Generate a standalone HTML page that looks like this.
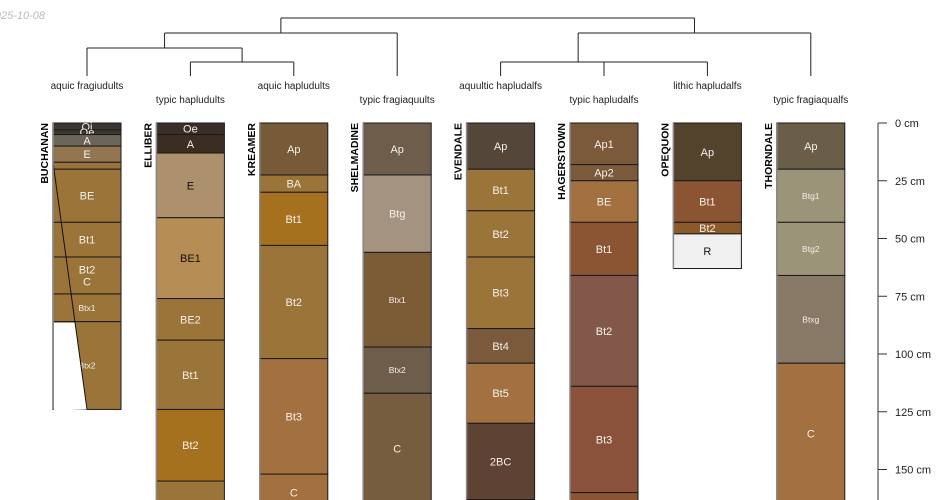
<!DOCTYPE html>
<html><head><meta charset="utf-8"><style>
html,body{margin:0;padding:0;background:#fff;width:950px;height:500px;overflow:hidden;}
svg{display:block;font-family:"Liberation Sans",sans-serif;overflow:hidden;}
</style></head><body>
<svg id="chart" width="950" height="500" viewBox="0 0 950 500" xmlns="http://www.w3.org/2000/svg">
<text x="45" y="19" text-anchor="end" font-size="11" font-style="italic" fill="#bbb">2025-10-08</text>
<g id="dendro" stroke="#222" stroke-width="1" fill="none"></g>
<g id="profiles"></g>
<g id="axis"></g>
</svg>
<script>
const profileNames = ["BUCHANAN","ELLIBER","KREAMER","SHELMADINE","EVENDALE","HAGERSTOWN","OPEQUON","THORNDALE"];
const taxa = ["aquic fragiudults","typic hapludults","aquic hapludults","typic fragiaquults","aquultic hapludalfs","typic hapludalfs","lithic hapludalfs","typic fragiaqualfs"];
const hzNames = [
 ["Oi","Oe","A","E","","BE","Bt1","Bt2\nC","Btx1","Btx2"],
 ["Oe","A","E","BE1","BE2","Bt1","Bt2","Bt3"],
 ["Ap","BA","Bt1","Bt2","Bt3","C"],
 ["Ap","Btg","Btx1","Btx2","C"],
 ["Ap","Bt1","Bt2","Bt3","Bt4","Bt5","2BC"],
 ["Ap1","Ap2","BE","Bt1","Bt2","Bt3","C"],
 ["Ap","Bt1","Bt2","R"],
 ["Ap","Btg1","Btg2","Btxg","C"]
];
const hzBottoms = [
 [3,5,10,17,20,43,58,74,86,124],
 [5,13,41,76,94,124,155,200],
 [22.5,30,53,102,152,168],
 [22.5,56,97,117,165],
 [20,38,58,89,104,130,163],
 [18,25,43,66,114,160,200],
 [25,43,48,63],
 [20,43,66,104,165]
];
const hzColors = [
 ["#3c3530","#3e3630","#6e655a","#937650","#9a733c","#9a7438","#9a7438","#9a7438","#9a7438","#9a7438"],
 ["#3a2f28","#3b2d22","#ad916c","#b68d55","#9a7438","#9a7438","#a5711e","#9a7438"],
 ["#775a37","#9a7438","#a5711e","#9a7438","#a37040","#a37040"],
 ["#6e5d4b","#a49380","#7b5c37","#6e5d4b","#765d40"],
 ["#54473a","#9a7438","#9a7438","#9a7438","#7b5a3c","#a37040","#5e4233"],
 ["#7b5a3c","#7b5a3c","#a37040","#8b5533","#82584a","#8b523b","#8b5533"],
 ["#54432c","#8b5533","#8b5a2a","#f0f0f0"],
 ["#6b5e49","#9c9478","#9c9478","#887866","#a37040"]
];
const depthTicks = [0,25,50,75,100,125,150];

const NS="http://www.w3.org/2000/svg";
const Y0=123, PXCM=2.31, X0=53, DX=103.4, W=68, YMAX=500;
function yScale(d){return Y0+d*PXCM;}
function xLeft(i){return X0+i*DX;}
function xCenter(i){return xLeft(i)+W/2;}
function mk(tag,attrs,parent){const e=document.createElementNS(NS,tag);for(const k in attrs)e.setAttribute(k,attrs[k]);parent.appendChild(e);return e;}
const smallSet=["Btx1","Btx2","Btg1","Btg2","Btxg"];
const darkText=["E","BE1","R"];
const profG=document.getElementById('profiles');
profileNames.forEach((nm,i)=>{
  const g=mk('g',{},profG);
  
  
  const xl=xLeft(i);
  let top=0;
  hzBottoms[i].forEach((bot,j)=>{
    const y1=yScale(top), y2=yScale(bot);
    if(y1<YMAX){
      const y2c=Math.min(y2,YMAX+1);
      const r=mk('rect',{x:xl,y:y1,width:W,height:y2c-y1,fill:hzColors[i][j],stroke:"#1a1a1a","stroke-width":1},g);
      
      
      const lab=hzNames[i][j];
      const cy=(y1+y2)/2;
      if(lab && cy<YMAX-4){
        const lines=lab.split("\n");
        const small=smallSet.includes(lab);
        const fs=small?8.5:11;
        const fill=(darkText.includes(lab)&&i!==0)?"#111":"#f4f0ea";
        lines.forEach((ln,k)=>{
          const t=mk('text',{x:xl+W/2,y:cy+fs*0.36+(k-(lines.length-1)/2)*12,"text-anchor":"middle","font-size":fs,fill:fill},g);
          
          
          t.textContent=ln;
        });
      }
    }
    top=bot;
  });
  const bottom=Math.min(yScale(hzBottoms[i][hzBottoms[i].length-1]),YMAX);
  mk('line',{x1:xl,y1:Y0,x2:xl,y2:bottom,stroke:"#888","stroke-width":1.5},g);
  if(i===0){
    const ya=yScale(hzBottoms[0][8]), yb=yScale(hzBottoms[0][9]), yt=yScale(hzBottoms[0][4]-3);
    const xb=xl+34, xa=xl+(34)*(ya-yt)/(yb-yt);
    const poly=mk('polygon',{points:`${xl+1},${ya+1} ${xa},${ya+1} ${xb},${yb} ${xl+1},${yb+1}`,fill:"#fff"},g);
    
    
    mk('line',{x1:xl,y1:yt,x2:xb,y2:yb,stroke:"#111","stroke-width":1},g);
    mk('line',{x1:xl,y1:Y0,x2:xl,y2:yb,stroke:"#888","stroke-width":1.5},g);
  }
  const tx=xl-5, ty=Y0;
  const t=mk('text',{x:tx,y:ty,transform:`rotate(-90 ${tx} ${ty})`,"text-anchor":"end","font-size":10.5,"font-weight":"bold",fill:"#000"},g);
  
  
  t.textContent=nm;
  const tt=mk('text',{x:xCenter(i),y:(i%2===0)?89:103,"text-anchor":"middle","font-size":10,fill:"#222"},profG);
  
  
  tt.textContent=taxa[i];
});
const dG=document.getElementById('dendro');
function seg(x1,y1,x2,y2){const l=mk('line',{x1,y1,x2,y2},dG);}
const LEAF=76;
function join(xa,ha,xb,hb,h){seg(xa,h,xb,h);seg(xa,h,xa,ha);seg(xb,h,xb,hb);return (xa+xb)/2;}
const c=xCenter;
const m23=join(c(1),LEAF,c(2),LEAF,62);
const m123=join(c(0),LEAF,m23,62,48);
const mL=join(m123,48,c(3),LEAF,33);
const m67=join(c(5),LEAF,c(6),LEAF,62);
const m567=join(c(4),LEAF,m67,62,62);
const mR=join(m567,62,c(7),LEAF,33);
join(mL,33,mR,33,18);
const aG=document.getElementById('axis');
const ax=878;
const al=mk('line',{x1:ax,y1:yScale(0),x2:ax,y2:YMAX,stroke:"#777","stroke-width":1.5},aG);


depthTicks.forEach(d=>{
  const y=yScale(d);
  const tk=mk('line',{x1:ax,y1:y,x2:ax+9,y2:y,stroke:"#333","stroke-width":1},aG);
  
  
  const t=mk('text',{x:ax+17,y:y+4,"font-size":11,fill:"#222"},aG);
  
  
  t.textContent=d+" cm";
});
</script>
</body></html>
